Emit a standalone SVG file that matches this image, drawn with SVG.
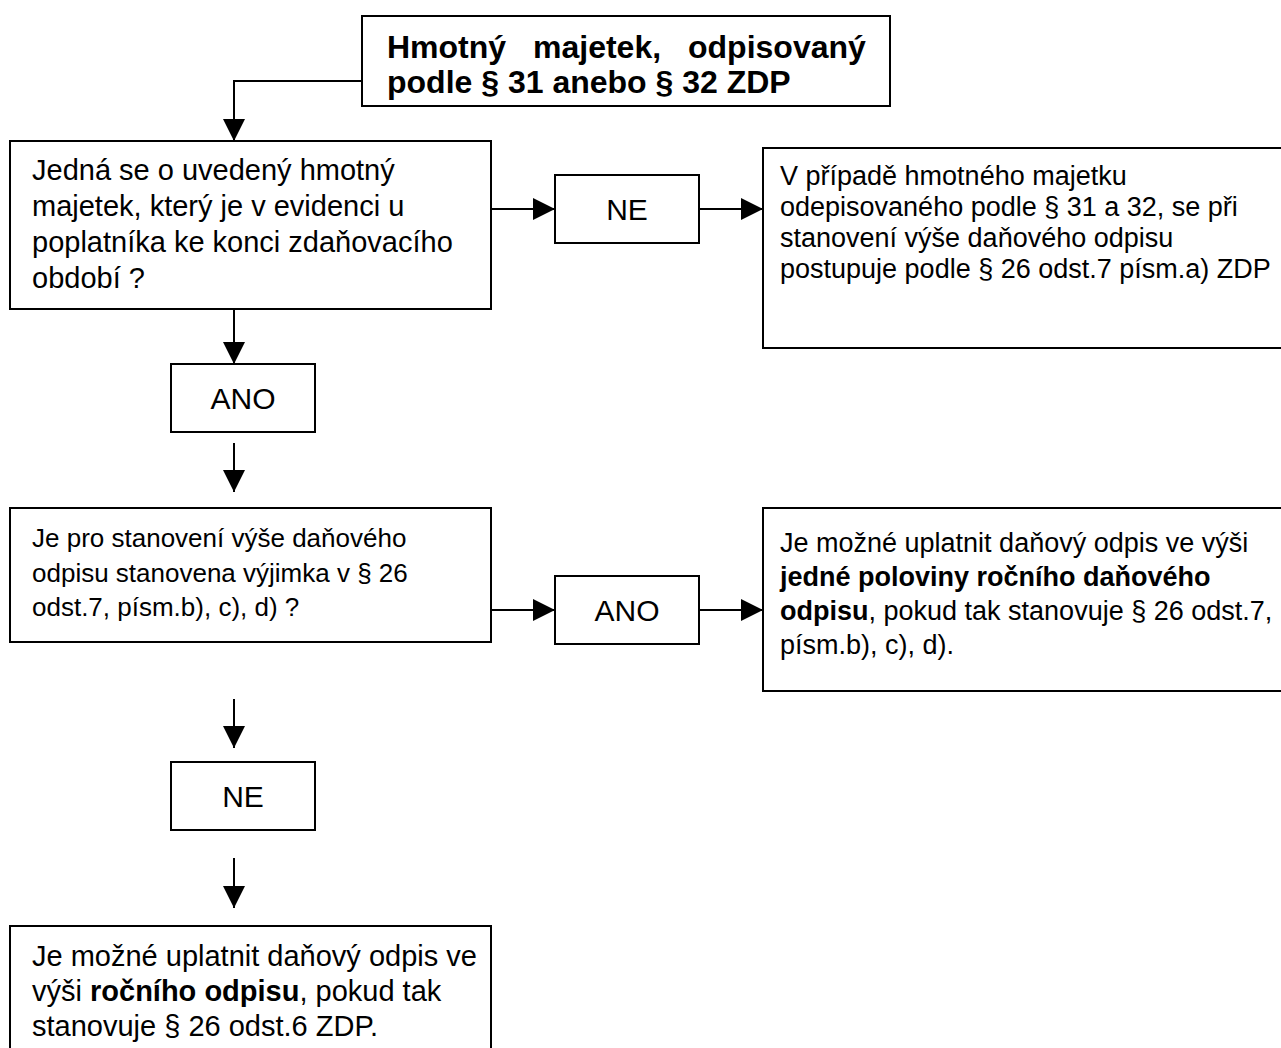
<svg xmlns="http://www.w3.org/2000/svg" width="1281" height="1048" viewBox="0 0 1281 1048">
<defs>
<marker id="ah" markerWidth="22" markerHeight="24" refX="22" refY="11" orient="auto" markerUnits="userSpaceOnUse">
<path d="M0,0 L22,11 L0,22 Z" fill="#000"/>
</marker>
<style>
.box{fill:#fff;stroke:#000;stroke-width:2}
.ln{fill:none;stroke:#000;stroke-width:2;marker-end:url(#ah)}
text{font-family:"Liberation Sans",Arial,sans-serif;fill:#000}
.b{font-weight:bold}
.lbl{font-size:30px;text-anchor:middle}
</style>
</defs>
<rect width="1281" height="1048" fill="#fff"/>
<g id="connectors">
<polyline class="ln" points="362,81 234,81 234,141"/>
<line class="ln" x1="234" y1="309" x2="234" y2="364"/>
<line class="ln" x1="234" y1="443" x2="234" y2="492"/>
<line class="ln" x1="234" y1="699" x2="234" y2="748"/>
<line class="ln" x1="234" y1="858" x2="234" y2="908"/>
<line class="ln" x1="491" y1="209" x2="555" y2="209"/>
<line class="ln" x1="699" y1="209" x2="763" y2="209"/>
<line class="ln" x1="491" y1="610" x2="555" y2="610"/>
<line class="ln" x1="699" y1="610" x2="763" y2="610"/>
</g>
<g id="start">
<rect class="box" x="362" y="16" width="528" height="90"/>
<text class="b" font-size="32" y="58"><tspan x="387">Hmotný</tspan><tspan x="533">majetek,</tspan><tspan x="688">odpisovaný</tspan></text>
<text class="b" font-size="32" x="387" y="93">podle § 31 anebo § 32 ZDP</text>
</g>
<g id="q1">
<rect class="box" x="10" y="141" width="481" height="168"/>
<text font-size="29"><tspan x="32" y="180">Jedná se o uvedený hmotný</tspan><tspan x="32" y="216">majetek, který je v evidenci u</tspan><tspan x="32" y="252">poplatníka ke konci zdaňovacího</tspan><tspan x="32" y="288">období ?</tspan></text>
</g>
<g id="ne1">
<rect class="box" x="555" y="175" width="144" height="68"/>
<text class="lbl" x="627" y="220">NE</text>
</g>
<g id="r1">
<rect class="box" x="763" y="148" width="530" height="200"/>
<text font-size="27"><tspan x="780" y="185">V případě hmotného majetku</tspan><tspan x="780" y="216">odepisovaného podle § 31 a 32, se při</tspan><tspan x="780" y="247">stanovení výše daňového odpisu</tspan><tspan x="780" y="278">postupuje podle § 26 odst.7 písm.a) ZDP</tspan></text>
</g>
<g id="ano1">
<rect class="box" x="171" y="364" width="144" height="68"/>
<text class="lbl" x="243" y="409">ANO</text>
</g>
<g id="q2">
<rect class="box" x="10" y="508" width="481" height="134"/>
<text font-size="26"><tspan x="32" y="547">Je pro stanovení výše daňového</tspan><tspan x="32" y="582">odpisu stanovena výjimka v § 26</tspan><tspan x="32" y="616">odst.7, písm.b), c), d) ?</tspan></text>
</g>
<g id="ano2">
<rect class="box" x="555" y="576" width="144" height="68"/>
<text class="lbl" x="627" y="621">ANO</text>
</g>
<g id="r2">
<rect class="box" x="763" y="508" width="530" height="183"/>
<text font-size="27"><tspan x="780" y="552">Je možné uplatnit daňový odpis ve výši</tspan><tspan x="780" y="586" class="b">jedné poloviny ročního daňového</tspan><tspan x="780" y="620"><tspan class="b">odpisu</tspan>, pokud tak stanovuje § 26 odst.7,</tspan><tspan x="780" y="654">písm.b), c), d).</tspan></text>
</g>
<g id="ne2">
<rect class="box" x="171" y="762" width="144" height="68"/>
<text class="lbl" x="243" y="807">NE</text>
</g>
<g id="end">
<rect class="box" x="10" y="926" width="481" height="140"/>
<text font-size="29"><tspan x="32" y="966">Je možné uplatnit daňový odpis ve</tspan><tspan x="32" y="1001">výši <tspan class="b">ročního odpisu</tspan>, pokud tak</tspan><tspan x="32" y="1036">stanovuje § 26 odst.6 ZDP.</tspan></text>
</g>
</svg>
